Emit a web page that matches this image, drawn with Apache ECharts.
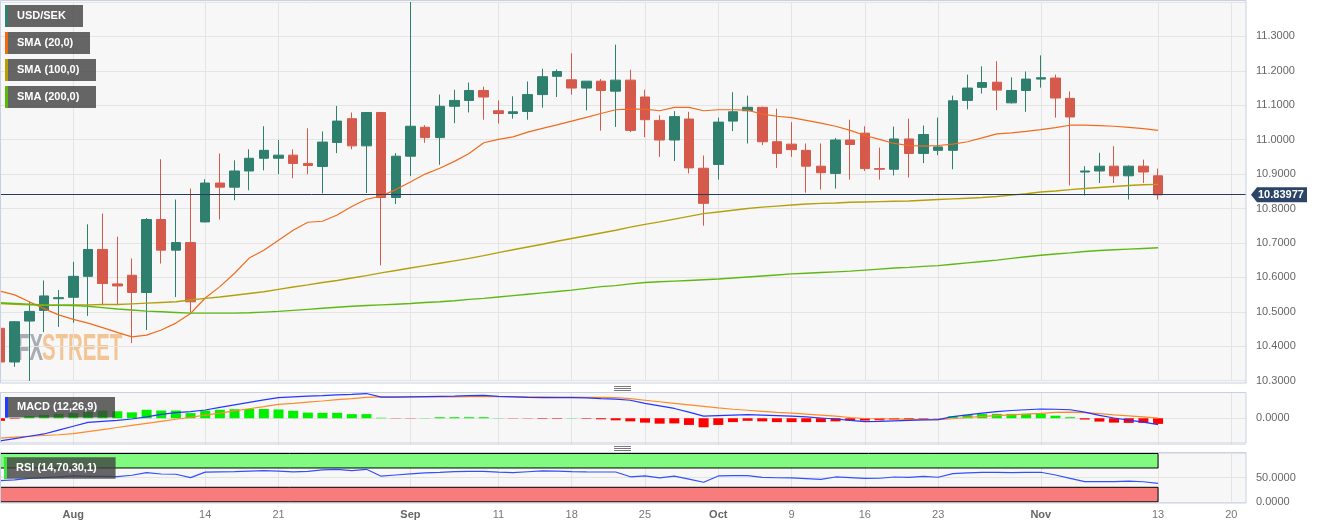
<!DOCTYPE html>
<html>
<head>
<meta charset="utf-8">
<script src="https://cdn.jsdelivr.net/npm/echarts@6/dist/echarts.min.js"></script>
<style>
html,body{margin:0;padding:0;background:#fff;}
#chart{width:1323px;height:529px;}
</style>
</head>
<body>
<div id="chart"></div>
<script>
// ---------- DATA ----------
const categories = ['07-25','07-26','07-27','07-28','07-31',
'08-01','08-02','08-03','08-04','08-07','08-08','08-09','08-10','08-11','08-14','08-15','08-16','08-17','08-18','08-21','08-22','08-23','08-24','08-25','08-28','08-29','08-30','08-31',
'09-01','09-04','09-05','09-06','09-07','09-08','09-11','09-12','09-13','09-14','09-15','09-18','09-19','09-20','09-21','09-22','09-25','09-26','09-27','09-28','09-29',
'10-02','10-03','10-04','10-05','10-06','10-09','10-10','10-11','10-12','10-13','10-16','10-17','10-18','10-19','10-20','10-23','10-24','10-25','10-26','10-27','10-30','10-31',
'11-01','11-02','11-03','11-06','11-07','11-08','11-09','11-10','11-13','11-14','11-15','11-16','11-17','11-20','11-21'];

const tickDates = ['08-01','08-14','08-21','09-01','09-11','09-18','09-25','10-02','10-09','10-16','10-23','11-01','11-13','11-20'];
const tickTexts = ['Aug','14','21','Sep','11','18','25','Oct','9','16','23','Nov','13','20'];

const opens = [
10.452,10.354,10.473,10.504,10.538,10.542,10.603,10.681,10.581,10.606,
10.556,10.768,10.679,10.701,10.761,10.874,10.862,10.909,10.946,10.946,
10.955,10.931,10.922,10.992,11.061,10.982,11.079,10.832,10.952,11.036,
11.006,11.097,11.114,11.143,11.084,11.076,11.082,11.131,11.184,11.174,
11.150,11.170,11.141,11.173,11.124,11.056,10.999,11.060,10.917,10.928,
11.054,11.084,11.094,10.994,10.987,10.969,10.923,10.902,10.999,11.019,
10.916,10.914,11.002,10.960,10.969,10.969,11.114,11.152,11.167,11.107,
11.143,11.176,11.179,11.120,10.906,10.909,10.923,10.895,10.923,10.895];
const closes = [
10.354,10.471,10.501,10.546,10.541,10.603,10.681,10.582,10.575,10.556,
10.768,10.679,10.701,10.529,10.874,10.862,10.909,10.946,10.969,10.955,
10.931,10.925,10.993,11.054,10.982,11.079,10.832,10.952,11.039,11.006,
11.097,11.114,11.143,11.124,11.076,11.081,11.131,11.183,11.198,11.150,
11.170,11.143,11.173,11.027,11.058,10.999,11.067,10.918,10.815,11.051,
11.081,11.094,10.994,10.960,10.971,10.923,10.904,10.999,10.986,10.916,
10.914,11.002,10.960,11.015,10.979,11.113,11.150,11.166,11.144,11.143,
11.176,11.180,11.121,11.066,10.909,10.923,10.895,10.923,10.906,10.83977];
const lows = [
10.345,10.340,10.299,10.441,10.456,10.468,10.488,10.519,10.519,10.409,
10.447,10.640,10.543,10.499,10.760,10.768,10.824,10.853,10.911,10.900,
10.888,10.900,10.844,10.961,10.972,10.845,10.635,10.813,10.894,10.991,
10.927,11.048,11.079,11.058,11.047,11.061,11.058,11.093,11.124,11.131,
11.085,11.026,11.037,11.022,11.007,10.950,10.938,10.902,10.750,10.884,
11.025,10.989,10.984,10.918,10.950,10.846,10.855,10.858,10.884,10.909,
10.884,10.896,10.890,10.932,10.955,10.914,11.088,11.134,11.086,11.105,
11.081,11.151,11.064,10.867,10.838,10.874,10.874,10.826,10.874,10.826];
const highs = [
10.470,10.473,10.529,10.591,10.563,10.645,10.754,10.785,10.718,10.655,
10.772,10.943,10.826,10.858,10.885,10.960,10.940,10.972,11.039,10.999,
10.972,11.033,11.024,11.098,11.079,11.080,11.080,10.961,11.400,11.042,
11.131,11.145,11.166,11.154,11.114,11.126,11.169,11.206,11.204,11.251,
11.170,11.176,11.276,11.203,11.145,11.071,11.083,11.081,10.954,11.064,
11.138,11.128,11.096,11.090,11.051,10.989,10.989,11.005,11.058,11.039,
10.977,11.038,11.061,11.041,11.064,11.128,11.189,11.213,11.228,11.181,
11.198,11.245,11.189,11.140,10.923,10.962,10.981,10.925,10.942,10.916];

const sma20 = [
10.560,10.549,10.529,10.509,10.491,10.478,10.467,10.454,10.440,10.427,
10.432,10.447,10.467,10.495,10.540,10.573,10.612,10.656,10.679,10.708,
10.737,10.760,10.763,10.781,10.806,10.827,10.836,10.855,10.877,10.900,
10.917,10.937,10.960,10.991,11.001,11.008,11.022,11.033,11.043,11.054,
11.065,11.076,11.087,11.089,11.089,11.084,11.094,11.094,11.084,11.087,
11.087,11.086,11.074,11.068,11.064,11.056,11.048,11.039,11.027,11.012,
11.001,10.989,10.983,10.981,10.983,10.987,10.994,11.005,11.017,11.020,
11.024,11.029,11.035,11.042,11.042,11.041,11.039,11.036,11.032,11.027];
const sma100 = [
10.524,10.522,10.520,10.519,10.519,10.520,10.520,10.521,10.521,10.523,
10.525,10.527,10.529,10.534,10.539,10.543,10.548,10.553,10.558,10.565,
10.572,10.578,10.585,10.591,10.598,10.605,10.613,10.620,10.627,10.634,
10.641,10.648,10.655,10.663,10.672,10.680,10.688,10.696,10.705,10.713,
10.721,10.729,10.737,10.746,10.754,10.761,10.769,10.777,10.785,10.790,
10.795,10.800,10.804,10.807,10.810,10.813,10.815,10.816,10.818,10.819,
10.820,10.821,10.822,10.824,10.826,10.828,10.830,10.832,10.835,10.839,
10.843,10.848,10.851,10.855,10.858,10.861,10.864,10.867,10.869,10.870];
const sma200 = [
10.526,10.524,10.522,10.520,10.519,10.518,10.516,10.512,10.508,10.505,
10.502,10.500,10.498,10.496,10.496,10.496,10.496,10.497,10.499,10.501,
10.504,10.507,10.510,10.513,10.516,10.518,10.520,10.522,10.524,10.527,
10.529,10.532,10.536,10.539,10.543,10.547,10.551,10.555,10.559,10.563,
10.568,10.573,10.576,10.581,10.585,10.587,10.589,10.591,10.593,10.595,
10.598,10.601,10.604,10.607,10.610,10.612,10.614,10.616,10.618,10.621,
10.624,10.627,10.629,10.632,10.634,10.638,10.642,10.646,10.650,10.655,
10.660,10.664,10.668,10.671,10.675,10.678,10.680,10.682,10.684,10.686];

const macdLine = [
-0.088,-0.079,-0.070,-0.061,-0.046,-0.031,-0.016,-0.012,-0.008,-0.003,
0.005,0.015,0.022,0.026,0.032,0.042,0.052,0.062,0.071,0.080,
0.083,0.086,0.088,0.091,0.093,0.096,0.082,0.082,0.083,0.084,
0.085,0.086,0.088,0.089,0.085,0.083,0.081,0.080,0.080,0.080,
0.079,0.076,0.074,0.070,0.058,0.048,0.038,0.024,0.008,0.010,
0.012,0.014,0.012,0.010,0.008,0.005,0.001,-0.003,-0.008,-0.013,
-0.012,-0.010,-0.008,-0.006,-0.005,0.006,0.013,0.020,0.026,0.030,
0.033,0.036,0.035,0.033,0.024,0.011,0.001,-0.007,-0.015,-0.025];
const signalLine = [
-0.077,-0.073,-0.070,-0.067,-0.064,-0.060,-0.052,-0.044,-0.036,-0.028,
-0.020,-0.012,-0.004,0.004,0.012,0.020,0.029,0.037,0.045,0.054,
0.058,0.063,0.067,0.072,0.076,0.081,0.083,0.083,0.083,0.083,
0.083,0.083,0.084,0.084,0.084,0.084,0.083,0.083,0.082,0.082,
0.081,0.081,0.080,0.076,0.070,0.064,0.058,0.052,0.046,0.040,
0.035,0.031,0.027,0.023,0.020,0.016,0.012,0.008,0.003,-0.001,
-0.002,-0.003,-0.004,-0.005,-0.005,-0.002,0.003,0.007,0.010,0.013,
0.016,0.019,0.023,0.024,0.022,0.018,0.013,0.009,0.005,0.001];
const macdHist = [
-0.010,-0.002,0.008,0.013,0.017,0.020,0.025,0.030,0.027,0.023,
0.033,0.030,0.030,0.020,0.030,0.033,0.035,0.036,0.036,0.034,
0.029,0.022,0.021,0.021,0.016,0.016,0.002,-0.001,-0.001,0.001,
0.004,0.004,0.004,0.004,0.001,-0.001,-0.001,-0.002,-0.002,0.001,
-0.002,-0.004,-0.008,-0.012,-0.017,-0.021,-0.020,-0.026,-0.035,-0.026,
-0.015,-0.010,-0.012,-0.015,-0.015,-0.015,-0.015,-0.012,-0.009,-0.009,
-0.008,-0.005,-0.005,-0.002,-0.001,0.008,0.013,0.017,0.017,0.017,
0.017,0.017,0.010,0.004,-0.005,-0.013,-0.017,-0.018,-0.018,-0.022];

const rsi = [
43.8,45.5,48.3,50,51.5,53.5,52.5,52.5,52,55,
60.5,57.6,57,50,61.5,62,62.3,63.5,64.5,63.5,
62,63,66,67,64.5,67.3,53,55.5,58,60,
61,62.4,62.8,63,61.5,60.4,62.2,64,63.7,62.4,
62,61.7,61.7,51.8,53.5,49.5,53.2,47,40.5,53.5,
54,54.1,50.7,49.8,49.4,48,46.6,51.4,50.2,48.5,
48.8,51.3,50.7,52.8,50.8,58.5,60,60.8,61,60.5,
61,61.2,55.5,48.5,41.7,41.7,41.7,43,41.5,38.3];

const lastPrice = 10.83977;
const lastDate = '11-13';

// ---------- CHART ----------
const FONT = '"Liberation Sans", Arial, sans-serif';
const chart = echarts.init(document.getElementById('chart'), null, {renderer:'canvas'});
const candleData = opens.map((o,i)=>[o, closes[i], lows[i], highs[i]]);
const isTick = (idx, val) => tickDates.indexOf(val) >= 0;
const gridColor = '#e4e4e4';

function xAxisCfg(gi, showLabel){
  return {
    type:'category', gridIndex:gi, data:categories, boundaryGap:false,
    axisLine:{show:false}, axisTick:{show:false},
    splitLine:{show:true, interval:isTick, lineStyle:{color:gridColor, width:1}},
    axisLabel:{show:showLabel, interval:isTick, margin:8, color:'#777', fontSize:11, fontFamily:FONT,
      formatter:(v)=>{const t=tickTexts[tickDates.indexOf(v)]; if(t===undefined) return ''; return isNaN(+t)?'{b|'+t+'}':t;},
      rich:{b:{fontWeight:'bold', color:'#666', fontSize:11, fontFamily:FONT}}}
  };
}
const yLabel = {color:'#666', fontSize:11, fontFamily:FONT, margin:10};

const option = {
  animation:false,
  backgroundColor:'#ffffff',
  grid:[
    {left:0, right:77, top:2, height:378.6},
    {left:0, right:77, top:392.5, height:51.5},
    {left:0, right:77, top:453.5, height:48.3}
  ],
  xAxis:[xAxisCfg(0,false), xAxisCfg(1,false), xAxisCfg(2,true)],
  yAxis:[
    {type:'value', gridIndex:0, position:'right', min:10.3, max:11.4, interval:0.1,
     axisLine:{show:false}, axisTick:{show:false},
     splitLine:{lineStyle:{color:gridColor}},
     axisLabel:Object.assign({formatter:(v)=>v.toFixed(4), showMaxLabel:false}, yLabel)},
    {type:'value', gridIndex:1, position:'right', min:-0.1, max:0.1, interval:0.1,
     axisLine:{show:false}, axisTick:{show:false},
     splitLine:{lineStyle:{color:gridColor}},
     axisLabel:Object.assign({formatter:(v)=>Math.abs(v)<1e-9?'0.0000':'', showMaxLabel:false, showMinLabel:false}, yLabel)},
    {type:'value', gridIndex:2, position:'right', min:0, max:100, interval:50,
     axisLine:{show:false}, axisTick:{show:false},
     splitLine:{lineStyle:{color:gridColor}},
     axisLabel:Object.assign({formatter:(v)=>v.toFixed(4), showMaxLabel:false}, yLabel)}
  ],
  series:[
    {type:'candlestick', name:'USD/SEK', xAxisIndex:0, yAxisIndex:0, data:candleData, barWidth:10, clip:true, z:3,
     itemStyle:{color:'#2f7f6e', color0:'#d65a4b', borderColor:'#2f7f6e', borderColor0:'#d65a4b', borderWidth:1},
     markLine:{silent:true, symbol:['none','none'], label:{show:false},
       lineStyle:{color:'#263d60', width:1, type:'solid'}, data:[{yAxis:lastPrice}]}},
    {type:'line', name:'SMA (20,0)', xAxisIndex:0, yAxisIndex:0, data:sma20, showSymbol:false, symbol:'none',
     lineStyle:{color:'#f26b1d', width:1.2}, z:4},
    {type:'line', name:'SMA (100,0)', xAxisIndex:0, yAxisIndex:0, data:sma100, showSymbol:false, symbol:'none',
     lineStyle:{color:'#b5a00c', width:1.4}, z:4},
    {type:'line', name:'SMA (200,0)', xAxisIndex:0, yAxisIndex:0, data:sma200, showSymbol:false, symbol:'none',
     lineStyle:{color:'#5fb812', width:1.4}, z:4},
    {type:'bar', name:'Hist', xAxisIndex:1, yAxisIndex:1, data:macdHist, barWidth:10,
     itemStyle:{color:(p)=>p.value>=0?'#00f000':'#ff0000'}},
    {type:'line', name:'MACD', xAxisIndex:1, yAxisIndex:1, data:macdLine, symbol:'none',
     lineStyle:{color:'#2436ff', width:1.2}, z:4},
    {type:'line', name:'Signal', xAxisIndex:1, yAxisIndex:1, data:signalLine, symbol:'none',
     lineStyle:{color:'#ff8a2a', width:1.2}, z:3},
    {type:'line', name:'RSI', xAxisIndex:2, yAxisIndex:2, data:rsi, symbol:'none',
     lineStyle:{color:'#3350ff', width:1.2}, z:4,
     markArea:{silent:true, data:[
       [{xAxis:categories[0], yAxis:70, itemStyle:{color:'#80fb80', borderColor:'#000', borderWidth:1, opacity:1}},
        {xAxis:lastDate, yAxis:100}],
       [{xAxis:categories[0], yAxis:0, itemStyle:{color:'#f87c7c', borderColor:'#000', borderWidth:1, opacity:1}},
        {xAxis:lastDate, yAxis:30}]
     ]}}
  ]
};
chart.setOption(option);

// ---------- DECORATIONS ----------
const yTag = chart.convertToPixel({yAxisIndex:0}, lastPrice);
const panelStroke = '#c9d0e4';
const panels = [[0.5,0.5,1245.5,382.5],[0.5,392.5,1245.5,50.5],[0.5,452.5,1245.5,50.5]];
const els = [];
panels.forEach(p=>{
  els.push({type:'rect', z:-10, shape:{x:p[0],y:p[1],width:p[2],height:p[3]}, style:{fill:'#f7f7f7', stroke:null}});
  els.push({type:'rect', z:60, shape:{x:p[0],y:p[1],width:p[2],height:p[3]}, style:{fill:null, stroke:panelStroke, lineWidth:1}});
});
// watermark
els.push({type:'text', z:-5, x:17, y:350, scaleX:0.55, style:{text:'FX', fill:'#9ea4ac', font:'bold 37px '+FONT, verticalAlign:'middle', align:'left', opacity:0.9}});
els.push({type:'text', z:-5, x:42, y:350, scaleX:0.55, style:{text:'STREET', fill:'#f2bf8a', font:'bold 37px '+FONT, verticalAlign:'middle', align:'left', opacity:0.9}});
// legend boxes
const legends = [
  ['USD/SEK', '#2e8070', 5, 5, 78, 22],
  ['SMA (20,0)', '#f06a10', 5, 32, 85, 22],
  ['SMA (100,0)', '#b8a000', 5, 59, 91, 22],
  ['SMA (200,0)', '#5cb80a', 5, 86, 91, 22],
  ['MACD (12,26,9)', '#1f3cff', 5, 397, 110, 20.5],
  ['RSI (14,70,30,1)', '#39e639', 4, 457.3, 111.6, 21.4]
];
legends.forEach(l=>{
  els.push({type:'rect', z:80, shape:{x:l[2], y:l[3], width:l[4], height:l[5]}, style:{fill:'rgba(64,64,64,0.8)'}});
  els.push({type:'rect', z:81, shape:{x:l[2], y:l[3], width:3, height:l[5]}, style:{fill:l[1]}});
  els.push({type:'text', z:82, x:l[2]+12, y:l[3]+l[5]/2, style:{text:l[0], fill:'#ffffff', font:'bold 11px '+FONT, verticalAlign:'middle', align:'left'}});
});
// resize handles
[386,388,390,446,448,450].forEach(y=>{
  els.push({type:'line', z:60, shape:{x1:614, y1:y+0.5, x2:631, y2:y+0.5}, style:{stroke:'#7a7a7a', lineWidth:1}});
});
// price tag
els.push({type:'polygon', z:90, shape:{points:[[1251,yTag],[1257,yTag-7.5],[1307,yTag-7.5],[1307,yTag+7.5],[1257,yTag+7.5]]}, style:{fill:'#2b4468'}});
els.push({type:'text', z:91, x:1258, y:yTag, style:{text:lastPrice.toFixed(5), fill:'#ffffff', font:'bold 11px '+FONT, verticalAlign:'middle', align:'left'}});

chart.setOption({graphic:{elements:els}});
</script>
</body>
</html>
